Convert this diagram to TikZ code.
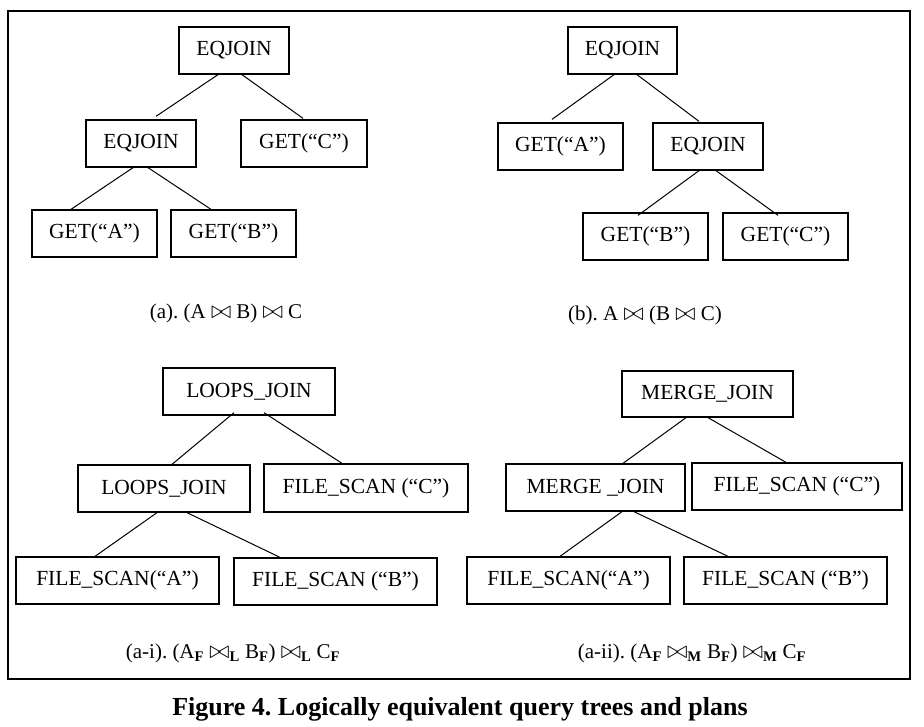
\documentclass[tikz,border=0pt]{standalone}
\usepackage{fontspec}
\setmainfont{Liberation Serif}
\frenchspacing
\newcommand{\bt}{{\fontsize{25}{25}\selectfont$\bowtie$}}
\begin{document}
\begin{tikzpicture}[x=1pt,y=-1pt,
  box/.style={draw,line width=1.3pt,rectangle,inner sep=0pt,font=\fontsize{21.5}{25}\selectfont},
  conn/.style={line width=1pt},
  subcap/.style={font=\fontsize{21}{25}\selectfont,inner sep=0pt},
  figcap/.style={font=\fontsize{26}{30}\selectfont\bfseries,inner sep=0pt}]
\useasboundingbox (0,0) rectangle (924,726);
\node[draw,line width=1.4pt,minimum width=902pt,minimum height=668pt,inner sep=0pt] (frame) at (459,345) {};
% (a)
\node[box,minimum width=110pt,minimum height=47pt] (a1) at (234,50.5) {EQJOIN};
\node[box,minimum width=110pt,minimum height=47pt] (a2) at (141,143.5) {EQJOIN};
\node[box,minimum width=126pt,minimum height=47pt] (a3) at (304,143.5) {GET(“C”)};
\node[box,minimum width=125pt,minimum height=47pt] (a4) at (94.5,233.5) {GET(“A”)};
\node[box,minimum width=125pt,minimum height=47pt] (a5) at (233.5,233.5) {GET(“B”)};
\draw[conn] ([xshift=-16pt]a1.south) -- ([xshift=15pt,yshift=3pt]a2.north);
\draw[conn] ([xshift=8pt]a1.south) -- ([xshift=-1pt,yshift=1pt]a3.north);
\draw[conn] ([xshift=-8pt]a2.south) -- ([xshift=-23.5pt]a4.north);
\draw[conn] ([xshift=7pt]a2.south) -- ([xshift=-22.5pt]a5.north);
\node[subcap] (capa) at (226,313) {(a). (A \bt{} B) \bt{} C};
% (b)
\node[box,minimum width=109pt,minimum height=47pt] (b1) at (622.5,50.5) {EQJOIN};
\node[box,minimum width=125pt,minimum height=47pt] (b2) at (560.5,146.5) {GET(“A”)};
\node[box,minimum width=110pt,minimum height=47pt] (b3) at (708,146.5) {EQJOIN};
\node[box,minimum width=125pt,minimum height=47pt] (b4) at (645.5,236.5) {GET(“B”)};
\node[box,minimum width=125pt,minimum height=47pt] (b5) at (785.5,236.5) {GET(“C”)};
\draw[conn] ([xshift=-8.5pt]b1.south) -- ([xshift=-8.5pt,yshift=3pt]b2.north);
\draw[conn] ([xshift=14.5pt]b1.south) -- ([xshift=-9pt,yshift=1pt]b3.north);
\draw[conn] ([xshift=-9pt]b3.south) -- ([xshift=-7.5pt,yshift=-3pt]b4.north);
\draw[conn] ([xshift=8pt]b3.south) -- ([xshift=-7.5pt,yshift=-3pt]b5.north);
\node[subcap] (capb) at (645,315) {(b). A \bt{} (B \bt{} C)};
% (a-i)
\node[box,minimum width=172pt,minimum height=47pt] (c1) at (249,391.5) {LOOPS\_JOIN};
\node[box,minimum width=172pt,minimum height=47pt] (c2) at (164,488.5) {LOOPS\_JOIN};
\node[box,minimum width=204pt,minimum height=48pt] (c3) at (366,488) {FILE\_SCAN (“C”)};
\node[box,minimum width=203pt,minimum height=47pt] (c4) at (117.5,580.5) {FILE\_SCAN(“A”)};
\node[box,minimum width=203pt,minimum height=47pt] (c5) at (335.5,581.5) {FILE\_SCAN (“B”)};
\draw[conn] ([xshift=-15pt,yshift=3pt]c1.south) -- ([xshift=8pt]c2.north);
\draw[conn] ([xshift=15pt,yshift=3pt]c1.south) -- ([xshift=-24pt]c3.north);
\draw[conn] ([xshift=-7pt]c2.south) -- ([xshift=-22.5pt]c4.north);
\draw[conn] ([xshift=23pt]c2.south) -- ([xshift=-55.5pt]c5.north);
\node[subcap] (capc) at (233,653) {(a-i). (A\textsubscript{\textbf{F}} \bt\textsubscript{\textbf{L}} B\textsubscript{\textbf{F}}) \bt\textsubscript{\textbf{L}} C\textsubscript{\textbf{F}}};
% (a-ii)
\node[box,minimum width=171pt,minimum height=46pt] (d1) at (707.5,394) {MERGE\_JOIN};
\node[box,minimum width=179pt,minimum height=47pt] (d2) at (595.5,487.5) {MERGE \_JOIN};
\node[box,minimum width=210pt,minimum height=47pt] (d3) at (797,486.5) {FILE\_SCAN (“C”)};
\node[box,minimum width=203pt,minimum height=47pt] (d4) at (568.5,580.5) {FILE\_SCAN(“A”)};
\node[box,minimum width=203pt,minimum height=47pt] (d5) at (785.5,580.5) {FILE\_SCAN (“B”)};
\draw[conn] ([xshift=-21.5pt]d1.south) -- ([xshift=27.5pt]d2.north);
\draw[conn] ([xshift=0.5pt]d1.south) -- ([xshift=-11pt]d3.north);
\draw[conn] ([xshift=26.5pt]d2.south) -- ([xshift=-8.5pt]d4.north);
\draw[conn] ([xshift=38.5pt]d2.south) -- ([xshift=-57.5pt]d5.north);
\node[subcap] (capd) at (692,653) {(a-ii). (A\textsubscript{\textbf{F}} \bt\textsubscript{\textbf{M}} B\textsubscript{\textbf{F}}) \bt\textsubscript{\textbf{M}} C\textsubscript{\textbf{F}}};
% figure caption
\node[figcap] (fig) at (460,709) {Figure 4. Logically equivalent query trees and plans};
\end{tikzpicture}
\end{document}
